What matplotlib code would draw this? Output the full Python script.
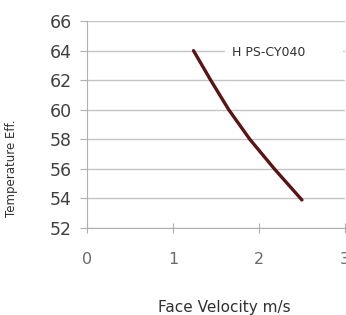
import matplotlib.pyplot as plt

velocity = [1.24, 1.44, 1.65, 1.895, 2.18, 2.5]
temp_eff = [64.0, 62.0, 60.0, 58.0, 56.0, 53.9]
series_name = "H PS-CY040"
y_ticks = [52, 54, 56, 58, 60, 62, 64, 66]
x_ticks = [0, 1, 2, 3]


def main():
    fig = plt.figure(figsize=(3.46, 3.15), dpi=100)
    ax = fig.add_axes([0.251, 0.276, 0.746, 0.657])

    ax.plot(velocity, temp_eff, color="#5a1414", linewidth=2.4,
            solid_capstyle="round", solid_joinstyle="round",
            label=series_name, zorder=3)

    ax.set_xlim(0, 3)
    ax.set_ylim(52, 66)
    ax.set_xticks(x_ticks)
    ax.set_yticks(y_ticks)
    ax.grid(True, axis="y", color="#c4c4c4", linewidth=1.0)
    ax.set_axisbelow(True)

    for side in ["top", "right"]:
        ax.spines[side].set_visible(False)
    for side in ["left", "bottom"]:
        ax.spines[side].set_color("#b0b0b0")

    ax.tick_params(axis="y", direction="out", length=5, color="#b0b0b0",
                   labelsize=12.5, labelcolor="#404040", pad=6)
    ax.tick_params(axis="x", direction="inout", length=7, color="#b0b0b0",
                   labelsize=11.5, labelcolor="#6a6a6a", pad=14)

    ax.set_xlabel("Face Velocity m/s", fontsize=11, color="#303030")
    ax.xaxis.set_label_coords(0.531, -0.348)
    ax.set_ylabel("Temperature Eff.", fontsize=8.5, color="#303030")
    ax.yaxis.set_label_coords(-0.267, 0.29)

    leg = ax.legend(loc="center left", bbox_to_anchor=(0.535, 0.85),
                    fontsize=9, frameon=True, markerfirst=False,
                    handlelength=1.5, handletextpad=0.8, borderpad=0.6,
                    borderaxespad=0, fancybox=False)
    leg.get_frame().set_edgecolor("white")
    leg.get_frame().set_facecolor("white")
    leg.get_frame().set_alpha(1.0)
    for h in leg.legend_handles:
        h.set_visible(False)
    for t in leg.get_texts():
        t.set_color("#303030")

    fig.savefig("out.png", dpi=100)


main()
